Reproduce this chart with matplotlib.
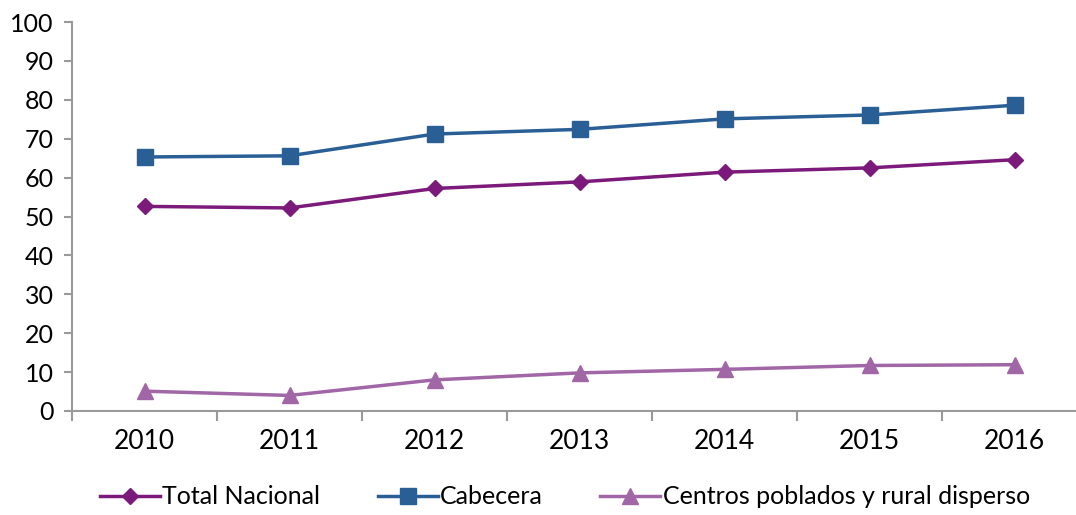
import matplotlib.pyplot as plt
from matplotlib.ticker import FixedLocator, NullFormatter, FixedFormatter

plt.rcParams['font.family'] = ['Lato', 'DejaVu Sans']

years = ['2010', '2011', '2012', '2013', '2014', '2015', '2016']
total_nacional = [52.6, 52.2, 57.2, 58.9, 61.4, 62.5, 64.6]
cabecera = [65.3, 65.6, 71.2, 72.4, 75.1, 76.1, 78.6]
centros_rural = [5.1, 4.0, 8.0, 9.8, 10.7, 11.7, 11.9]

fig = plt.figure(figsize=(10.76, 5.15), dpi=100)
ax = fig.add_axes([72 / 1076, 1 - 411 / 515, (1087 - 72) / 1076, (411 - 22) / 515])

x = list(range(len(years)))
ax.plot(x, total_nacional, color='#7b1a7b', lw=2.5, marker='D', ms=8, label='Total Nacional')
ax.plot(x, cabecera, color='#2a5f96', lw=2.5, marker='s', ms=11, label='Cabecera')
ax.plot(x, centros_rural, color='#a066a6', lw=2.5, marker='^', ms=11, label='Centros poblados y rural disperso')

ax.set_xlim(-0.5, len(years) - 0.5)
ax.set_ylim(0, 100)
ax.set_yticks(range(0, 101, 10))

ax.xaxis.set_major_locator(FixedLocator([i - 0.5 for i in range(len(years) + 1)]))
ax.xaxis.set_major_formatter(NullFormatter())
ax.xaxis.set_minor_locator(FixedLocator(x))
ax.xaxis.set_minor_formatter(FixedFormatter(years))
ax.tick_params(axis='x', which='major', length=7, width=1.5, color='#999999', direction='out')
ax.tick_params(axis='x', which='minor', length=0, labelsize=19, pad=13)
ax.tick_params(axis='y', length=6, width=1.5, color='#999999', labelsize=18, pad=7)

for side in ['top', 'right']:
    ax.spines[side].set_visible(False)
for side in ['left', 'bottom']:
    ax.spines[side].set_color('#999999')
    ax.spines[side].set_linewidth(1.5)

fig.legend(loc='center', bbox_to_anchor=(0.525, 0.035), ncol=3, frameon=False,
           fontsize=18, handlelength=2.4, handletextpad=0.1, columnspacing=2.3)

fig.savefig('out.png', dpi=100)
